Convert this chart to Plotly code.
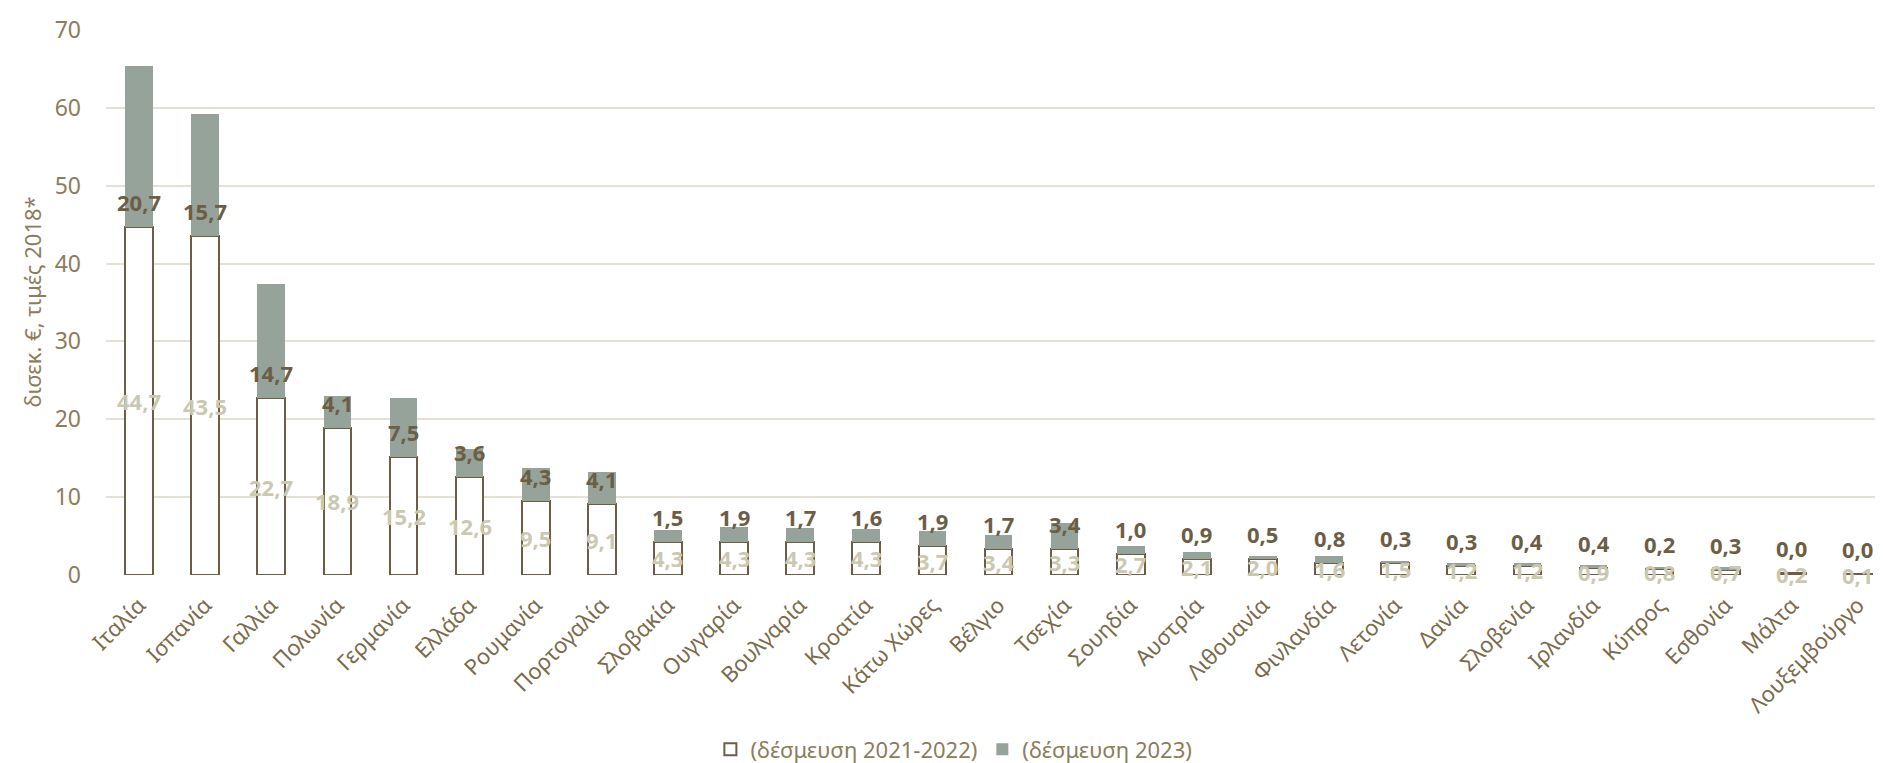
import plotly.graph_objects as go

# Χώρες (ταξινομημένες κατά συνολικό ποσό)
CHORES = [
    "Ιταλία", "Ισπανία", "Γαλλία", "Πολωνία", "Γερμανία", "Ελλάδα", "Ρουμανία",
    "Πορτογαλία", "Σλοβακία", "Ουγγαρία", "Βουλγαρία", "Κροατία", "Κάτω Χώρες",
    "Βέλγιο", "Τσεχία", "Σουηδία", "Αυστρία", "Λιθουανία", "Φινλανδία", "Λετονία",
    "Δανία", "Σλοβενία", "Ιρλανδία", "Κύπρος", "Εσθονία", "Μάλτα", "Λουξεμβούργο",
]

# δέσμευση 2021-2022
DESMEFSI_2122 = [
    44.7, 43.5, 22.7, 18.9, 15.2, 12.6, 9.5, 9.1, 4.3, 4.3, 4.3, 4.3, 3.7,
    3.4, 3.3, 2.7, 2.1, 2.0, 1.6, 1.5, 1.2, 1.2, 0.9, 0.8, 0.7, 0.2, 0.1,
]

# δέσμευση 2023
DESMEFSI_2023 = [
    20.7, 15.7, 14.7, 4.1, 7.5, 3.6, 4.3, 4.1, 1.5, 1.9, 1.7, 1.6, 1.9,
    1.7, 3.4, 1.0, 0.9, 0.5, 0.8, 0.3, 0.3, 0.4, 0.4, 0.2, 0.3, 0.0, 0.0,
]

Y_TICKS = [0, 10, 20, 30, 40, 50, 60, 70]

FONT        = "Noto Sans"
KAFE        = "#6b5e45"
KAFE_ANOIXT = "#8b7d5b"
BEZ         = "#cbc8b0"
GKRI        = "#96a39a"
GRID        = "#e3e0d6"


def fmt(v):
    return f"{v:.1f}".replace(".", ",")


fig = go.Figure()

fig.add_trace(go.Bar(
    x=CHORES,
    y=DESMEFSI_2122,
    name="(δέσμευση 2021-2022)",
    marker=dict(color="white", line=dict(color=KAFE, width=2)),
))
fig.add_trace(go.Bar(
    x=CHORES,
    y=DESMEFSI_2023,
    name="(δέσμευση 2023)",
    marker=dict(color=GKRI, line=dict(width=0)),
))

# ετικέτες δεδομένων
annotations = []
for c, v1, v2 in zip(CHORES, DESMEFSI_2122, DESMEFSI_2023):
    annotations.append(dict(
        x=c, y=v1 / 2, text=fmt(v1), showarrow=False,
        font=dict(family=FONT, size=22, color=BEZ, weight="bold"),
        yanchor="middle",
    ))
    annotations.append(dict(
        x=c, y=v1, text=fmt(v2), showarrow=False,
        font=dict(family=FONT, size=22, color=KAFE, weight="bold"),
        yanchor="middle", yshift=25,
    ))

# τίτλος άξονα y
annotations.append(dict(
    xref="paper", yref="paper", x=-0.042, y=0.5,
    text="δισεκ. €, τιμές 2018*", textangle=-90, showarrow=False,
    xanchor="center", yanchor="middle",
    font=dict(family=FONT, size=22, color=KAFE_ANOIXT),
))

fig.update_layout(
    barmode="stack",
    bargap=0.58,
    width=1883,
    height=763,
    plot_bgcolor="white",
    paper_bgcolor="white",
    font=dict(family=FONT, size=22, color=KAFE_ANOIXT),
    margin=dict(l=98, r=0, t=22, b=191),
    annotations=annotations,
    showlegend=True,
    legend=dict(
        orientation="h",
        x=0.475, xanchor="center",
        y=-0.32, yanchor="middle",
        font=dict(family=FONT, size=22, color=KAFE_ANOIXT),
        traceorder="normal",
        itemwidth=30,
    ),
    xaxis=dict(
        tickangle=-45,
        tickfont=dict(family=FONT, size=22, color="#7a6b4b"),
        showline=False,
        ticks="",
        ticklabelstandoff=12,
        automargin=False,
    ),
    yaxis=dict(
        range=[0, 70],
        tickvals=Y_TICKS,
        gridcolor=GRID,
        gridwidth=2,
        zeroline=False,
        showline=False,
        tickfont=dict(size=23, color=KAFE_ANOIXT),
        ticklabelstandoff=24,
        automargin=False,
    ),
)

fig.write_html("out.html")
